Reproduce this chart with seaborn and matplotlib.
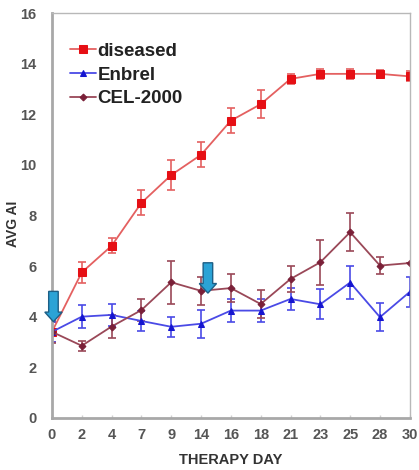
import numpy as np
import pandas as pd
import matplotlib
matplotlib.use("Agg")
import matplotlib.pyplot as plt
import matplotlib.patches as mpatches
import seaborn as sns

# values
days = ["0", "2", "4", "7", "9", "14", "16", "18", "21", "23", "25", "28", "30"]
diseased = [3.4, 5.75, 6.8, 8.5, 9.6, 10.4, 11.75, 12.4, 13.4, 13.6, 13.6, 13.6, 13.5]
diseased_err = [0.4, 0.4, 0.3, 0.5, 0.6, 0.5, 0.5, 0.55, 0.2, 0.2, 0.2, 0.15, 0.2]
enbrel = [3.4, 4.0, 4.07, 3.83, 3.6, 3.72, 4.24, 4.24, 4.7, 4.49, 5.35, 3.98, 4.98]
enbrel_err = [0.4, 0.45, 0.45, 0.4, 0.4, 0.55, 0.45, 0.45, 0.45, 0.6, 0.65, 0.55, 0.6]
cel2000 = [3.4, 2.85, 3.61, 4.26, 5.36, 5.02, 5.13, 4.5, 5.49, 6.15, 7.34, 6.02, 6.12]
cel2000_err = [0.45, 0.2, 0.45, 0.45, 0.85, 0.55, 0.55, 0.55, 0.5, 0.9, 0.75, 0.35, 0.0]
arrow_days = ["0", "14"]
arrow_tops = [5.0, 6.13]

series = ["diseased", "Enbrel", "CEL-2000"]
values = [diseased, enbrel, cel2000]
errors = [diseased_err, enbrel_err, cel2000_err]
line_colors = ["#e46060", "#4a4ae6", "#9a4858"]
marker_colors = ["#e60f14", "#1515d0", "#7a2038"]
markers = ["s", "^", "D"]
msizes = [6, 4, 3.5]

df = pd.DataFrame({
    "day": days * 3,
    "value": diseased + enbrel + cel2000,
    "group": sum([[s] * len(days) for s in series], []),
})

sns.set_style("white")
plt.rcParams["font.family"] = ["Liberation Sans", "DejaVu Sans"]

fig = plt.figure(figsize=(4.19, 4.70), dpi=100)
ax = fig.add_axes([0.124, 0.111, 0.854, 0.861])

for s, v, e, lc, mc, m, ms in zip(series, values, errors, line_colors,
                                  marker_colors, markers, msizes):
    sub = df[df["group"] == s]
    sns.lineplot(data=sub, x="day", y="value", ax=ax, color=lc, lw=1.3,
                 marker=m, markersize=ms, markerfacecolor=mc,
                 markeredgecolor=mc, label=s, sort=False)
    ax.errorbar(np.arange(len(days)), v, yerr=e, fmt="none", ecolor=lc,
                elinewidth=1.2, capsize=3, capthick=1.2, zorder=1)

# blue arrows marking treatment days (drawn slightly right of the tick)
for d, top, off in zip(arrow_days, arrow_tops, [0.05, 0.23]):
    xi = days.index(d) + off
    arr = mpatches.FancyArrow(xi, top, 0, -1.2, width=0.32,
                              head_width=0.58, head_length=0.38,
                              length_includes_head=True,
                              facecolor="#2ba3d6", edgecolor="#1d5f86",
                              lw=1.0, zorder=5, clip_on=False)
    ax.add_patch(arr)

ax.set_xlim(0, len(days) - 1)
ax.set_ylim(0, 16)
ax.set_yticks(range(0, 17, 2))
ax.set_xticks(range(len(days)))
ax.set_xticklabels(days)

for side in ["top", "right"]:
    ax.spines[side].set_color("#b8b8b8")
    ax.spines[side].set_linewidth(1.0)
for side in ["left", "bottom"]:
    ax.spines[side].set_color("#a8a8a8")
    ax.spines[side].set_linewidth(2.0)

ax.tick_params(axis="x", labelsize=10.5, colors="#d0d0d0",
               labelcolor="#555555", length=2, width=1.0, direction="in",
               bottom=True, pad=7)
ax.tick_params(axis="y", labelsize=10.5, labelcolor="#555555", length=0,
               left=False, pad=11)
for lab in ax.get_xticklabels() + ax.get_yticklabels():
    lab.set_fontweight("bold")

ax.set_xlabel("THERAPY DAY", fontsize=10.5, fontweight="bold", color="#333333",
              labelpad=8)
ax.set_ylabel("AVG AI", fontsize=10, fontweight="bold", color="#333333")
ax.yaxis.set_label_coords(-0.088, 0.48)

leg = ax.legend(loc="upper left", bbox_to_anchor=(0.03, 0.945), frameon=False,
                prop={"weight": "bold", "size": 13.5}, handlelength=1.35,
                handletextpad=0.1, labelspacing=0.35, borderaxespad=0)
for t in leg.get_texts():
    t.set_color("#222222")

fig.savefig("out.png", dpi=100)
